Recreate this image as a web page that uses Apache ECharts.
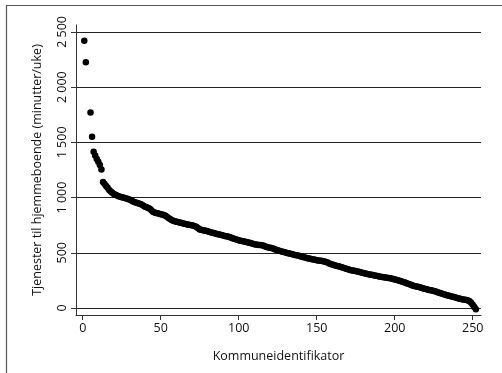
<!DOCTYPE html>
<html>
<head>
<meta charset="utf-8">
<script src="https://cdn.jsdelivr.net/npm/echarts@6/dist/echarts.min.js"></script>
<style>
html,body{margin:0;padding:0;background:#fff;}
#chart{width:502px;height:373px;}
</style>
</head>
<body>
<div id="chart"></div>
<script>
// minutter per uke, sortert synkende; indeks + 1 = kommuneidentifikator (null = mangler)
let minutter = [
    2420, 2225, null, null, 1770, 1550, 1415, 1380, 1350, 1325,
    1295, 1255, 1140, 1122, 1105, 1088, 1068, 1055, 1043, 1033,
    1025, 1019, 1013, 1008, 1004, 1001, 997, 992, 987, 982,
    975, 966, 960, 955, 950, 947, 943, 935, 925, 918,
    912, 905, 898, 885, 872, 866, 860, 857, 853, 850,
    846, 842, 835, 826, 815, 805, 797, 790, 785, 781,
    778, 775, 771, 767, 763, 760, 757, 754, 752, 749,
    745, 740, 733, 722, 712, 708, 705, 702, 699, 695,
    690, 686, 682, 679, 675, 671, 667, 664, 660, 656,
    653, 650, 647, 643, 638, 632, 627, 622, 617, 613,
    610, 607, 604, 601, 598, 594, 590, 586, 582, 578,
    575, 573, 571, 570, 568, 563, 558, 553, 549, 546,
    543, 539, 532, 527, 522, 518, 514, 510, 507, 503,
    499, 496, 492, 488, 484, 481, 478, 475, 471, 467,
    463, 459, 455, 451, 448, 445, 442, 439, 436, 433,
    431, 429, 427, 424, 420, 416, 411, 404, 398, 393,
    389, 385, 381, 377, 373, 369, 365, 361, 356, 350,
    346, 342, 339, 337, 334, 331, 328, 324, 320, 317,
    313, 310, 306, 303, 300, 298, 295, 292, 289, 286,
    283, 281, 278, 276, 274, 272, 270, 267, 263, 259,
    255, 251, 247, 243, 238, 233, 228, 223, 218, 212,
    207, 202, 198, 195, 192, 188, 184, 179, 175, 171,
    167, 164, 161, 158, 155, 151, 146, 141, 136, 131,
    126, 122, 118, 114, 110, 106, 102, 99, 95, 91,
    87, 83, 79, 76, 74, 72, 68, 60, 47, 30,
    10, -12
];
let xTicks = [0, 50, 100, 150, 200, 250];
let yTicks = [0, 500, 1000, 1500, 2000, 2500];

let fontName = '"Open Sans", sans-serif';
let points = [];
minutter.forEach(function (v, i) {
    if (v !== null) points.push([i + 1, v]);
});

let chart = echarts.init(document.getElementById('chart'), null, {renderer: 'canvas'});
let option = {
    animation: false,
    textStyle: {fontFamily: fontName},
    graphic: [{
        type: 'rect',
        silent: true,
        shape: {x: 6.5, y: 5.5, width: 540, height: 420},
        style: {fill: null, stroke: '#555', lineWidth: 1.2}
    }],
    grid: {left: 76, right: 21, top: 25, bottom: 58},
    xAxis: {
        type: 'value',
        min: -4.3,
        max: 255.3,
        name: 'Kommuneidentifikator',
        nameLocation: 'middle',
        nameGap: 35,
        nameTextStyle: {color: '#111', fontSize: 12.5, fontFamily: fontName},
        axisLine: {show: true, onZero: false, lineStyle: {color: '#333', width: 1}},
        axisTick: {show: true, length: 5, customValues: xTicks, lineStyle: {color: '#333'}},
        axisLabel: {customValues: xTicks, margin: 7, color: '#111', fontSize: 12.5, fontFamily: fontName},
        splitLine: {show: false}
    },
    yAxis: {
        type: 'value',
        min: -63.4,
        max: 2563,
        name: 'Tjenester til hjemmeboende (minutter/uke)',
        nameLocation: 'middle',
        nameGap: 32,
        nameTextStyle: {color: '#111', fontSize: 12.5, fontFamily: fontName},
        axisLine: {show: true, onZero: false, lineStyle: {color: '#333', width: 1}},
        axisTick: {show: true, length: 5, customValues: yTicks, lineStyle: {color: '#333'}},
        axisLabel: {
            customValues: yTicks,
            rotate: 90,
            align: 'center',
            verticalAlign: 'bottom',
            margin: 7,
            color: '#111',
            fontSize: 12.5,
            fontFamily: fontName,
            formatter: function (v) {
                return v >= 1000 ? Math.floor(v / 1000) + ' ' + String(v % 1000).padStart(3, '0') : String(v);
            }
        },
        splitLine: {show: true, lineStyle: {color: '#222', width: 1}}
    },
    series: [{
        type: 'scatter',
        clip: false,
        symbol: 'circle',
        symbolSize: 6.5,
        itemStyle: {color: '#000', opacity: 1},
        data: points
    }]
};
chart.setOption(option);
</script>
</body>
</html>
